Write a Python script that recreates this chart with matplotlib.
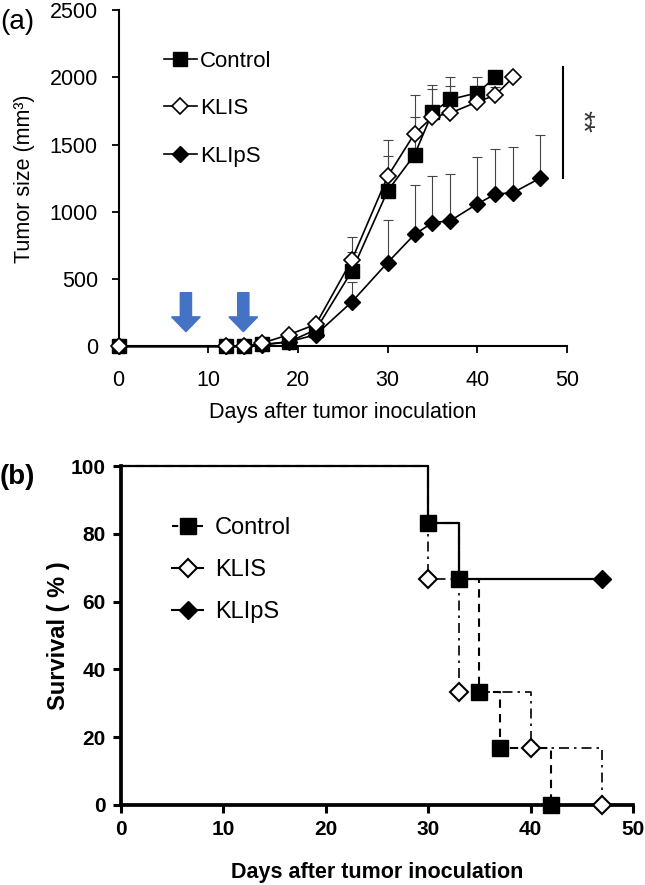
import numpy as np
import matplotlib
matplotlib.use("Agg")
import matplotlib.pyplot as plt

plt.rcParams["font.family"] = ["Liberation Sans", "DejaVu Sans"]

# --- (a) tumor growth ---
ctrl_days = [0, 12, 14, 16, 19, 22, 26, 30, 33, 35, 37, 40, 42]
ctrl_size = [0, 0, 0, 15, 35, 125, 560, 1157, 1425, 1741, 1836, 1886, 2000]
ctrl_err = [0, 0, 0, 5, 10, 30, 140, 260, 283, 200, 170, 115, 0]

klis_days = [0, 12, 14, 16, 19, 22, 26, 30, 33, 35, 37, 40, 42, 44]
klis_size = [0, 0, 0, 25, 88, 165, 642, 1264, 1582, 1706, 1736, 1818, 1868, 2000]
klis_err = [0, 0, 0, 8, 20, 30, 175, 270, 290, 210, 200, 100, 60, 0]

klips_days = [0, 12, 14, 16, 19, 22, 26, 30, 33, 35, 37, 40, 42, 44, 47]
klips_size = [0, 0, 0, 10, 35, 88, 331, 624, 833, 920, 935, 1060, 1132, 1144, 1251]
klips_err = [0, 0, 0, 5, 10, 20, 150, 316, 368, 351, 349, 345, 336, 339, 324]

arrow_days = [7.5, 13.9]

# --- (b) survival ---
surv_ctrl_t = [0, 30, 33, 35, 37, 42]
surv_ctrl = [100, 83.3, 66.7, 33.3, 16.7, 0]
surv_klis_t = [0, 30, 33, 40, 47]
surv_klis = [100, 66.7, 33.3, 16.7, 0]
surv_klips_t = [0, 30, 33, 47]
surv_klips = [100, 83.3, 66.7, 66.7]

fig = plt.figure(figsize=(6.45, 8.85), dpi=100)

# ---------------- panel (a) ----------------
ax = fig.add_axes([0.184, 0.6085, 0.695, 0.380])
ecol = "#444444"
for d, s, e in [(ctrl_days, ctrl_size, ctrl_err),
                (klis_days, klis_size, klis_err),
                (klips_days, klips_size, klips_err)]:
    ax.errorbar(d, s, yerr=[np.zeros(len(e)), e], fmt="none", ecolor=ecol,
                elinewidth=0.8, capsize=3.5, capthick=0.8, zorder=1, clip_on=False)

ax.plot(klips_days, klips_size, "-D", color="black", ms=8.5, lw=1.2,
        mfc="black", mec="black", label="KLIpS", zorder=3, clip_on=False)
ax.plot(ctrl_days, ctrl_size, "-s", color="black", ms=10.5, lw=1.2,
        mfc="black", mec="black", label="Control", zorder=4, clip_on=False)
ax.plot(klis_days, klis_size, "-D", color="black", ms=8.5, lw=1.2,
        mfc="white", mec="black", mew=1.2, label="KLIS", zorder=5, clip_on=False)

for xd in arrow_days:
    ax.arrow(xd, 400, 0, -290, width=1.25, head_width=3.2, head_length=110,
             length_includes_head=True, color="#4472C4", zorder=6)

# significance bar
ax.plot([49.6, 49.6], [1255, 2080], color="black", lw=1.5, clip_on=False)
ax.text(51.7, 1670, "**", rotation=270, ha="center", va="center",
        fontsize=21, color="#333333")

ax.set_xlim(0, 50)
ax.set_ylim(0, 2500)
ax.set_xticks(range(0, 51, 10))
ax.set_yticks(range(0, 2501, 500))
for sp in ["top", "right"]:
    ax.spines[sp].set_visible(False)
for sp in ["left", "bottom"]:
    ax.spines[sp].set_linewidth(1.5)
ax.tick_params(direction="out", length=5, width=1.3, labelsize=15.5)
ax.tick_params(axis="x", pad=12)
ax.tick_params(axis="y", pad=10)
ax.set_xlabel("Days after tumor inoculation", fontsize=15.5, va="top")
ax.set_ylabel("Tumor size (mm³)", fontsize=15.5, va="bottom")
ax.xaxis.set_label_coords(0.5, -0.165)
ax.yaxis.set_label_coords(-0.187, 0.5)

h, l = ax.get_legend_handles_labels()
order = [1, 2, 0]
ax.legend([h[i] for i in order], [l[i] for i in order], loc="upper left",
          bbox_to_anchor=(0.10, 0.88), frameon=False, fontsize=16,
          handlelength=1.5, handletextpad=0.15, labelspacing=1.2,
          borderpad=0, borderaxespad=0)

fig.text(0.0, 0.99, "(a)", fontsize=20, ha="left", va="top")

# ---------------- panel (b) ----------------
bx = fig.add_axes([0.1876, 0.0904, 0.794, 0.383])
bx.plot(surv_ctrl_t, surv_ctrl, drawstyle="steps-post", color="black",
        lw=1.5, ls=(0, (4, 3)), zorder=2, clip_on=False)
bx.plot(surv_klis_t, surv_klis, drawstyle="steps-post", color="black",
        lw=1.2, ls=(0, (6, 3, 1.5, 3)), zorder=2, clip_on=False)
bx.plot(surv_klips_t, surv_klips, drawstyle="steps-post", color="black",
        lw=1.6, zorder=3, clip_on=False)

bx.plot(surv_ctrl_t[1:], surv_ctrl[1:], "s", color="black", ms=11,
        ls="none", zorder=4, clip_on=False)
bx.plot(surv_klis_t[1:], surv_klis[1:], "D", mfc="white", mec="black",
        mew=1.5, ms=9, ls="none", zorder=5, clip_on=False)
bx.plot(surv_klips_t[-1:], surv_klips[-1:], "D", color="black", ms=9,
        ls="none", zorder=5, clip_on=False)

leg_lines = [
    plt.Line2D([], [], color="black", marker="s", ms=11, ls=(0, (3, 3)), lw=1.5),
    plt.Line2D([], [], color="black", marker="D", ms=9, mfc="white", mew=1.5, ls="-", lw=1.5),
    plt.Line2D([], [], color="black", marker="D", ms=9, ls="-", lw=1.5),
]
bx.legend(leg_lines, ["Control", "KLIS", "KLIpS"], loc="upper left",
          bbox_to_anchor=(0.10, 0.85), frameon=False, fontsize=17,
          handlelength=1.3, handletextpad=0.5, labelspacing=0.85,
          borderpad=0, borderaxespad=0)

bx.set_xlim(0, 50)
bx.set_ylim(0, 100)
bx.set_xticks(range(0, 51, 10))
bx.set_yticks(range(0, 101, 20))
for sp in ["top", "right"]:
    bx.spines[sp].set_visible(False)
for sp in ["left", "bottom"]:
    bx.spines[sp].set_linewidth(2.7)
bx.tick_params(direction="out", length=6, width=2.2, labelsize=15, pad=5)
for t in bx.get_xticklabels() + bx.get_yticklabels():
    t.set_fontweight("bold")
bx.set_xlabel("Days after tumor inoculation", fontsize=15.5, fontweight="bold",
              va="top")
bx.set_ylabel("Survival ( % )", fontsize=17, fontweight="bold", va="bottom")
bx.xaxis.set_label_coords(0.5, -0.168)
bx.yaxis.set_label_coords(-0.10, 0.5)

fig.text(0.0, 0.476, "(b)", fontsize=20, fontweight="bold", ha="left", va="top")

fig.savefig("out.png", dpi=100)
